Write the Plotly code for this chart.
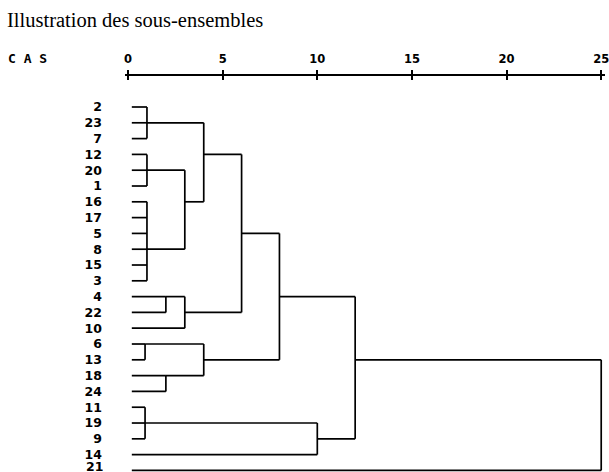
import plotly.graph_objects as go

# ---- data ----
leaves = ["2", "23", "7", "12", "20", "1", "16", "17", "5", "8", "15", "3",
          "4", "22", "10", "6", "13", "18", "24", "11", "19", "9", "14", "21"]

merge_names = ["A", "B", "C", "D", "E", "F", "G", "H", "I", "J", "K", "L", "M", "N", "O", "P"]
merge_children = [
    ["2", "23", "7"],
    ["12", "20", "1"],
    ["16", "17", "5", "8", "15", "3"],
    ["B", "C"],
    ["A", "D"],
    ["4", "22"],
    ["F", "10"],
    ["E", "G"],
    ["6", "13"],
    ["18", "24"],
    ["I", "J"],
    ["H", "K"],
    ["11", "19", "9"],
    ["M", "14"],
    ["L", "N"],
    ["O", "21"],
]
merge_heights = [1, 1, 1, 3, 4, 2, 3, 6, 0.9, 2, 4, 8, 0.9, 10, 12, 25]
merge_anchor = ["23", "20", "8", "16", "12", "4", "22", "5", "6", "18", "13", "4", "19", "9", "13", "13"]

axis_ticks = [0, 5, 10, 15, 20, 25]

LEAF_START = 0.2

# ---- geometry from the data ----
row = {lab: i for i, lab in enumerate(leaves)}
node_x = {lab: LEAF_START for lab in leaves}
node_row = dict(row)

xs, ys = [], []
for name, children, h, anc in zip(merge_names, merge_children, merge_heights, merge_anchor):
    rows = []
    for c in children:
        xs += [node_x[c], h, None]
        ys += [node_row[c], node_row[c], None]
        rows.append(node_row[c])
    xs += [h, h, None]
    ys += [min(rows), max(rows), None]
    node_x[name] = h
    node_row[name] = row[anc]

lab_font = dict(family="DejaVu Sans", size=12.5, color="black", weight="bold")
tick_font = dict(family="DejaVu Sans", size=11.5, color="black", weight="bold")
cas_font = dict(family="DejaVu Sans Mono", size=13, color="black", weight="bold")

fig = go.Figure()
fig.add_trace(go.Scatter(x=xs, y=ys, mode="lines",
                         line=dict(color="black", width=1.7),
                         hoverinfo="skip", showlegend=False))
fig.add_trace(go.Scatter(x=[None], y=[None], xaxis="x2", showlegend=False))

W, H = 609, 472
L, R, T, B = 125, 2, 76, 0
XR = [-0.16, 25.2]
PW, PH = W - L - R, H - T - B

fig.update_layout(
    width=W, height=H,
    margin=dict(l=L, r=R, t=T, b=B),
    paper_bgcolor="white", plot_bgcolor="white",
    xaxis=dict(side="top", range=XR, tickvals=axis_ticks,
               ticks="outside", ticklen=4, tickwidth=1.5, tickcolor="black",
               showline=True, linewidth=1.6, linecolor="black",
               showgrid=False, zeroline=False, tickfont=tick_font,
               ticklabelstandoff=3, ticklabeloverflow="allow"),
    xaxis2=dict(side="top", overlaying="x", range=XR, tickvals=axis_ticks,
                ticks="inside", ticklen=4, tickwidth=1.5, tickcolor="black",
                showticklabels=False, showline=False, showgrid=False, zeroline=False),
    yaxis=dict(range=[23.1, -1.962], tickvals=list(range(len(leaves) - 1)),
               ticktext=leaves[:-1],
               showgrid=False, zeroline=False, showline=False, ticks="",
               tickfont=lab_font, ticklabelstandoff=22),
    annotations=[
        dict(text="Illustration des sous-ensembles", xref="paper", yref="paper",
             x=(4 - L) / PW, y=(H - 20 - B) / PH,
             xanchor="left", yanchor="middle", showarrow=False,
             font=dict(family="Liberation Serif", size=20.5, color="black")),
        dict(text="C A S", xref="paper", yref="paper",
             x=(6 - L) / PW, y=(H - 58 - B) / PH,
             xanchor="left", yanchor="middle", showarrow=False,
             font=cas_font),
        dict(text=leaves[-1], xref="paper", yref="paper",
             x=(104 - L) / PW, y=0, xanchor="right", yanchor="bottom",
             height=10, valign="middle",
             showarrow=False, borderpad=0, font=lab_font),
    ],
)

fig.write_html("out.html", config={"displayModeBar": False},
               post_script="document.body.style.margin='0';")
